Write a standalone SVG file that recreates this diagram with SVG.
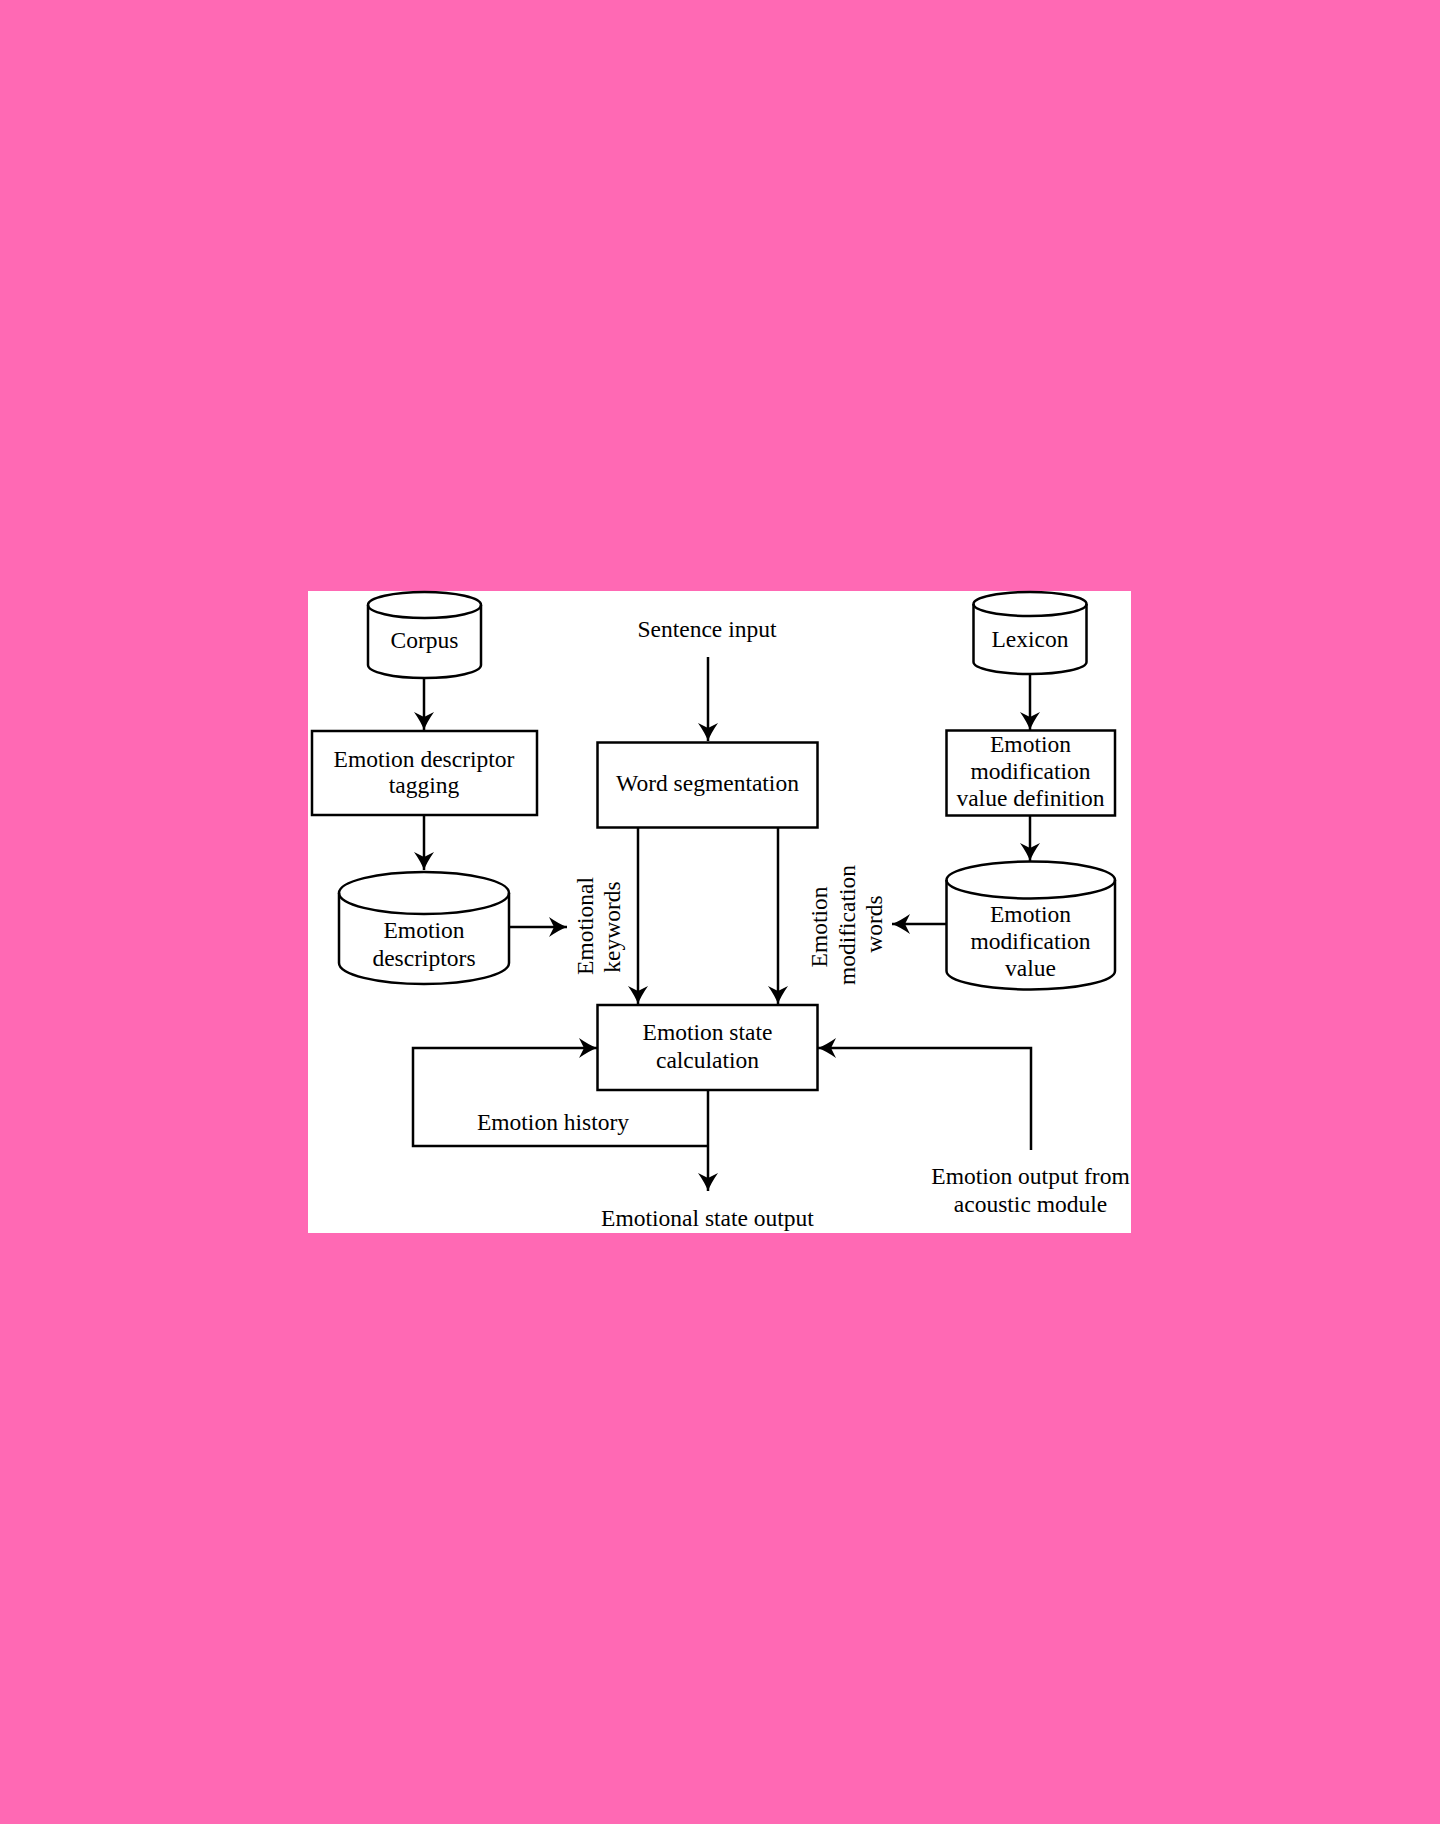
<svg xmlns="http://www.w3.org/2000/svg" width="1440" height="1824" viewBox="0 0 1440 1824">
  <style>
    .shape { fill: #ffffff; stroke: #000000; stroke-width: 2.5; }
    .edge { fill: none; stroke: #000000; stroke-width: 2.5; }
    .lbl { font-family: "Liberation Serif", "Times New Roman", serif; font-size: 23.5px; fill: #000000; text-anchor: middle; }
  </style>
  <defs>
    <!-- barbed arrowhead with slightly concave flanks -->
    <marker id="arrow" viewBox="-20 -11 21 22" markerWidth="21" markerHeight="22" refX="0" refY="0" orient="auto" markerUnits="userSpaceOnUse">
      <path d="M0,0 Q-8,-3 -18,-10 L-13,0 L-18,10 Q-8,3 0,0 Z" fill="#000000"/>
    </marker>
  </defs>

  <!-- page -->
  <rect x="0" y="0" width="1440" height="1824" fill="#FF69B4"/>
  <rect x="308" y="591" width="823" height="642" fill="#ffffff"/>

  <!-- connectors -->
  <g id="connectors">
    <line class="edge" x1="424" y1="678" x2="424" y2="730" marker-end="url(#arrow)"/>
    <line class="edge" x1="424" y1="815" x2="424" y2="870" marker-end="url(#arrow)"/>
    <line class="edge" x1="708" y1="657" x2="708" y2="741" marker-end="url(#arrow)"/>
    <line class="edge" x1="1030" y1="674" x2="1030" y2="730" marker-end="url(#arrow)"/>
    <line class="edge" x1="1030" y1="815" x2="1030" y2="861" marker-end="url(#arrow)"/>
    <line class="edge" x1="509" y1="927" x2="567" y2="927" marker-end="url(#arrow)"/>
    <line class="edge" x1="946" y1="924" x2="892" y2="924" marker-end="url(#arrow)"/>
    <line class="edge" x1="638" y1="828" x2="638" y2="1004" marker-end="url(#arrow)"/>
    <line class="edge" x1="778" y1="828" x2="778" y2="1004" marker-end="url(#arrow)"/>
    <line class="edge" x1="708" y1="1090" x2="708" y2="1191" marker-end="url(#arrow)"/>
    <polyline class="edge" points="708,1146 413,1146 413,1048 597,1048" marker-end="url(#arrow)"/>
    <polyline class="edge" points="1031,1150 1031,1048 818,1048" marker-end="url(#arrow)"/>
  </g>

  <!-- Corpus store -->
  <g id="corpus">
    <path class="shape" d="M368,605 A56.5,13 0 0 1 481,605 L481,665 A56.5,13 0 0 1 368,665 Z"/>
    <path class="edge" d="M368,605 A56.5,13 0 0 0 481,605"/>
    <text class="lbl" x="424.5" y="648">Corpus</text>
  </g>

  <!-- Emotion descriptor tagging -->
  <g id="descriptor-tagging">
    <rect class="shape" x="312" y="731" width="225" height="84"/>
    <text class="lbl" x="424" y="767">Emotion descriptor</text>
    <text class="lbl" x="424" y="793">tagging</text>
  </g>

  <!-- Emotion descriptors store -->
  <g id="emotion-descriptors">
    <path class="shape" d="M339,893 A85,21 0 0 1 509,893 L509,963 A85,21 0 0 1 339,963 Z"/>
    <path class="edge" d="M339,893 A85,21 0 0 0 509,893"/>
    <text class="lbl" x="424" y="938">Emotion</text>
    <text class="lbl" x="424" y="966">descriptors</text>
  </g>

  <!-- Sentence input -->
  <g id="sentence-input">
    <text class="lbl" x="707" y="637">Sentence input</text>
  </g>

  <!-- Word segmentation -->
  <g id="word-segmentation">
    <rect class="shape" x="597.5" y="742.5" width="220" height="85"/>
    <text class="lbl" x="707.5" y="791">Word segmentation</text>
  </g>

  <!-- Lexicon store -->
  <g id="lexicon">
    <path class="shape" d="M973.5,604 A56.5,12 0 0 1 1086.5,604 L1086.5,662 A56.5,12 0 0 1 973.5,662 Z"/>
    <path class="edge" d="M973.5,604 A56.5,12 0 0 0 1086.5,604"/>
    <text class="lbl" x="1030" y="647">Lexicon</text>
  </g>

  <!-- Emotion modification value definition -->
  <g id="modification-definition">
    <rect class="shape" x="946.5" y="730.5" width="168.5" height="85"/>
    <text class="lbl" x="1030.5" y="752">Emotion</text>
    <text class="lbl" x="1030.5" y="779">modification</text>
    <text class="lbl" x="1030.5" y="806">value definition</text>
  </g>

  <!-- Emotion modification value store -->
  <g id="modification-value">
    <path class="shape" d="M946.5,880 A84.25,18.5 0 0 1 1115,880 L1115,971 A84.25,18.5 0 0 1 946.5,971 Z"/>
    <path class="edge" d="M946.5,880 A84.25,18.5 0 0 0 1115,880"/>
    <text class="lbl" x="1030.5" y="922">Emotion</text>
    <text class="lbl" x="1030.5" y="949">modification</text>
    <text class="lbl" x="1030.5" y="976">value</text>
  </g>

  <!-- Rotated edge labels -->
  <g id="emotional-keywords">
    <text class="lbl" transform="translate(593,926) rotate(-90)">Emotional</text>
    <text class="lbl" transform="translate(619.5,927) rotate(-90)">keywords</text>
  </g>
  <g id="modification-words">
    <text class="lbl" transform="translate(826.5,927) rotate(-90)">Emotion</text>
    <text class="lbl" transform="translate(854.5,925) rotate(-90)">modification</text>
    <text class="lbl" transform="translate(881.5,924) rotate(-90)">words</text>
  </g>

  <!-- Emotion state calculation -->
  <g id="state-calculation">
    <rect class="shape" x="597.5" y="1005" width="220" height="85"/>
    <text class="lbl" x="707.5" y="1040">Emotion state</text>
    <text class="lbl" x="707.5" y="1068">calculation</text>
  </g>

  <!-- Loop and outputs -->
  <g id="emotion-history">
    <text class="lbl" x="553" y="1130">Emotion history</text>
  </g>
  <g id="state-output">
    <text class="lbl" x="707.5" y="1226">Emotional state output</text>
  </g>
  <g id="acoustic-input">
    <text class="lbl" x="1030.5" y="1184">Emotion output from</text>
    <text class="lbl" x="1030.5" y="1212">acoustic module</text>
  </g>
</svg>
